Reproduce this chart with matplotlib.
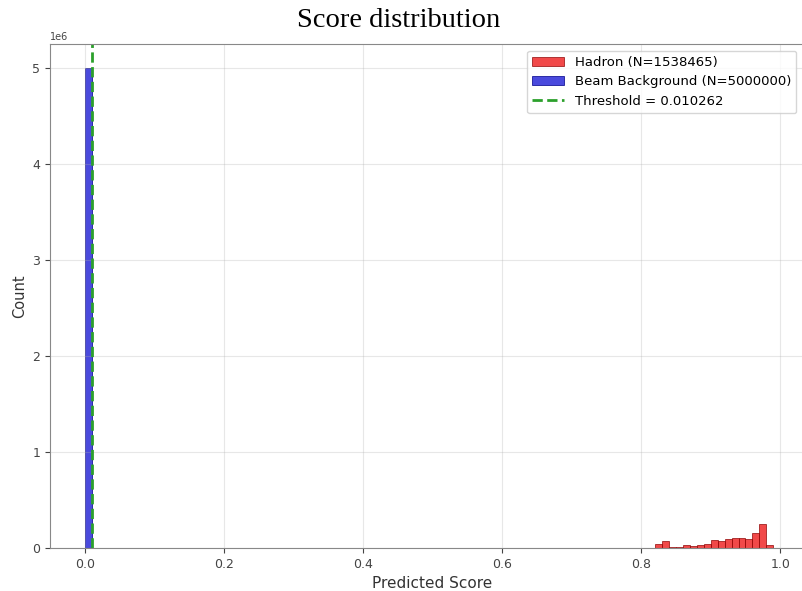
import numpy as np
import matplotlib
matplotlib.use("Agg")
import matplotlib.pyplot as plt

# Data
bin_width = 0.01
hadron_bin_starts = [0.82, 0.83, 0.84, 0.85, 0.86, 0.87, 0.88, 0.89, 0.90, 0.91,
                     0.92, 0.93, 0.94, 0.95, 0.96, 0.97, 0.98]
hadron_counts = [40000, 70000, 10000, 10000, 30000, 20000, 30000, 40000, 80000, 70000,
                 90000, 100000, 100000, 90000, 160000, 250000, 30000]
beam_bin_starts = [0.00]
beam_counts = [5000000]
threshold = 0.010262
n_hadron = 1538465
n_beam = 5000000

fig = plt.figure(figsize=(8.02, 5.91), dpi=100)
ax = fig.add_axes([50/802, (591-548)/591, (815-50)/802, (548-44)/591])

edges_h = list(hadron_bin_starts) + [hadron_bin_starts[-1] + bin_width]
centers_h = [s + bin_width/2 for s in hadron_bin_starts]
ax.hist(centers_h, bins=edges_h, weights=hadron_counts, color='#ee1c1c', alpha=0.8,
        edgecolor='#8b0000', linewidth=0.6, label=f'Hadron (N={n_hadron})')

edges_b = list(beam_bin_starts) + [beam_bin_starts[-1] + bin_width]
centers_b = [s + bin_width/2 for s in beam_bin_starts]
ax.hist(centers_b, bins=edges_b, weights=beam_counts, color='#2a2ad8', alpha=0.85,
        edgecolor='#00008b', linewidth=0.6, label=f'Beam Background (N={n_beam})')

ax.axvline(threshold, color='#2ca02c', linestyle='--', linewidth=2,
           label=f'Threshold = {threshold}')

ax.set_xlim(-0.05, 1.05)
ax.set_ylim(0, 5.25e6)
ax.set_xticks([0.0, 0.2, 0.4, 0.6, 0.8, 1.0])
ax.grid(True, alpha=0.3)
ax.tick_params(labelsize=9, colors='#444444')
ax.yaxis.get_offset_text().set_fontsize(7)
for s in ax.spines.values():
    s.set_color('#888888')
ax.set_xlabel('Predicted Score', fontsize=11, color='#333333')
ax.set_ylabel('Count', fontsize=10.5, color='#333333')
ax.legend(loc='upper left', bbox_to_anchor=(0.615, 1.0), fontsize=9.5,
          handlelength=2.4)

fig.text(0.497, 0.965, 'Score distribution', ha='center', va='center',
         fontsize=20.5, family='Liberation Serif')

fig.savefig('out.png', dpi=100)
